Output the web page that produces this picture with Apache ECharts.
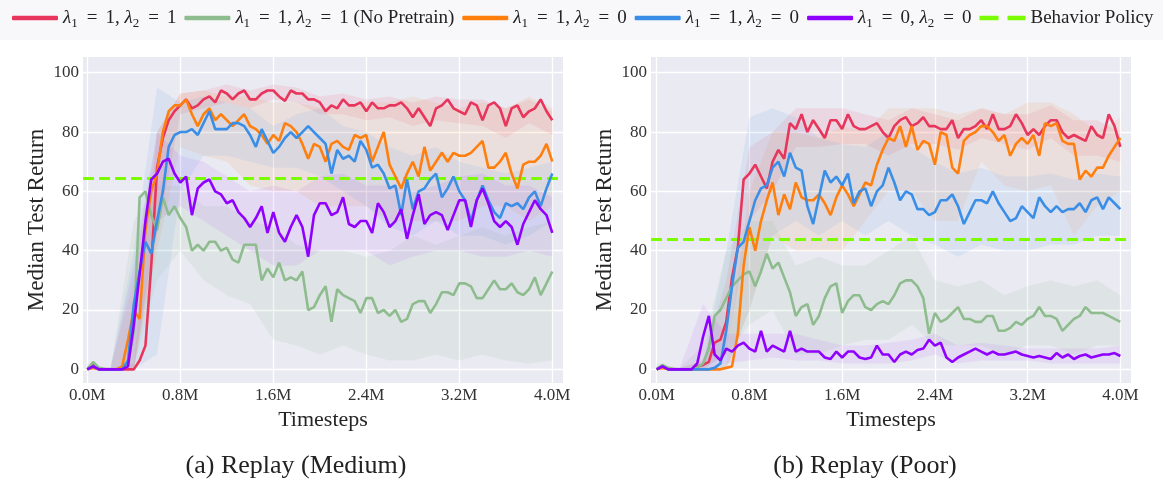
<!DOCTYPE html>
<html><head><meta charset="utf-8">
<script src="https://cdn.jsdelivr.net/npm/echarts@6/dist/echarts.min.js"></script>
<style>html,body{margin:0;padding:0;background:#fff}#c{width:1163px;height:484px}</style>
</head><body><div id="c"></div><script>
// sample timesteps (millions)
const T = [0,0.05,0.1,0.15,0.2,0.25,0.3,0.35,0.4,0.45,
0.5,0.55,0.6,0.65,0.7,0.75,0.8,0.85,0.9,0.95,
1.0,1.05,1.1,1.15,1.2,1.25,1.3,1.35,1.4,1.45,
1.5,1.55,1.6,1.65,1.7,1.75,1.8,1.85,1.9,1.95,
2.0,2.05,2.1,2.15,2.2,2.25,2.3,2.35,2.4,2.45,
2.5,2.55,2.6,2.65,2.7,2.75,2.8,2.85,2.9,2.95,
3.0,3.05,3.1,3.15,3.2,3.25,3.3,3.35,3.4,3.45,
3.5,3.55,3.6,3.65,3.7,3.75,3.8,3.85,3.9,3.95,4.0];
const BT = [0,0.2,0.4,0.6,0.8,1.0,1.2,1.4,1.6,1.8,2.0,2.2,2.4,2.6,2.8,3.0,3.2,3.4,3.6,3.8,4.0];
const xTicks = [0,0.8,1.6,2.4,3.2,4.0];
const yTicks = [0,20,40,60,80,100];

// (a) Replay (Medium)
const medRed = [0,2,0,0,0,0,0,0,0,3, 8,35,68,78,84,87,89,91,88,89, 91,92,90,94,93,91,93,94,91,91, 93,94,94,92,90.5,94,93,93,91,91, 90,87,89,88,91,89,89,90,87,90, 88,88,89,89,90,88,85,88,85,82, 88,89,91,88,87,86,90,89,84,89, 90,88,82,88,89,85,87,88,91,87, 84];
const medGreen = [0,2.5,0.5,0,0,0,0,2,13,58, 60,52,47,58,52,55,51,48,40,42, 40,43,43,40,41,37,36,42,42,42, 30,34,31,36,30,31,30,33,20,21, 25,28,16,27,25,24,23,19,24,24, 19,20,18,20,16,17,22,23,23,19, 22,26,26,25,29,29,28,24,24,27, 30,27,27,29,26,25,27,31,25,29, 33];
const medOrange = [0,0.5,0,0,0,0,1,10,20,17, 47,60,66,80,87,89,89,91,86,82, 86,88,84,86,84,82,84,86,82,81, 79,76,79,77,83,82,80,76,71,76, 75,70,76,77,75,74,79,78,79,70, 75,80,69,65,61,66,70,65,75,67, 70,73,70,73,72,72,73,75,77,68, 68,70,73,66,61,69,70,70,72,76, 70];
const medBlue = [0,1,0,0,0,0,0,3,22,33, 43,39,50,60,75,79,80,80,81,79, 83,87,81,81,81,83,83,82,79,75, 81,77,73,75,78,80,78,80,82,80, 78,76,66,74,71,72,70,77,74,68, 69,66,61,62,52,64,54,60,61,64, 66,58,61,65,60,57,50,57,62,57, 53,51,56,55,56,54,58,60,55,61, 66];
const medPurple = [0,1,0,0,0,0,0,1,15,32, 50,64,66,70,71,66,63,65,52,61, 63,64,60,59,56,57,53,51,48,51, 55,46,53,46,43,48,52,48,38,52, 56,56,52,53,58,49,48,50,50,46, 56,53,48,50,54,44,52,59,49,52, 53,52,47,52,57,57,48,57,61,56, 50,48,50,48,42,49,53,57,54,52, 46];
const medBehavior = 64.3;
// bands (low / high) every 0.2M
const medRedLo = [0,0,0,45,86,88,90,88,91,90,86,86,84,85,82,84,83,82,78,83,79];
const medRedHi = [1,0.5,2,80,93,94,96,94,96,95,92,93,91,92,90,92,91,91,88,91,87];
const medGreenLo = [0,0,0,30,40,30,25,22,10,8,5,8,5,3,3,5,3,5,3,2,3];
const medGreenHi = [2,0.5,50,62,62,55,55,50,48,42,40,40,38,40,45,42,45,48,45,48,50];
const medOrangeLo = [0,0,0,40,75,72,70,62,60,60,55,55,55,50,50,50,50,55,55,50,55];
const medOrangeHi = [1,0.5,30,80,93,94,92,92,90,90,88,88,90,90,92,90,88,90,88,92,88];
const medBlueLo = [0,0,0,5,60,72,72,70,68,68,65,60,55,48,45,50,45,45,42,45,50];
const medBlueHi = [1,0.5,40,95,90,92,90,88,82,86,88,82,80,75,72,75,70,68,66,68,70];
const medPurpleLo = [0,0,0,50,55,50,45,40,35,35,40,40,40,35,38,40,40,38,38,40,38];
const medPurpleHi = [1,0.5,35,80,72,70,65,60,62,60,65,66,62,62,60,62,65,66,62,62,58];

// (b) Replay (Poor)
const poorRed = [0,1,0,0,0,0,0,1,1.5,2.5, 9,10,16,31,41,64,66,69,65,61, 70,74,71,83,81,86,80,84,81,78, 84,84,81,86,82,81,81,82,83,80, 78,82,84,85,82,83,85,82,82,81, 81,84,78,81,81,82,84,81,86,81, 81,82,86,83,79,81,79,82,84,84, 80,78,79,78,77,82,79,78,86,82, 75];
const poorGreen = [0,1.5,0.5,0,0,0,0,0.5,2,7, 18,20,24,28,30,32,33,28,33,39, 34,36,31,26,18,21,22,15,18,24, 28,29,19,23,25,25,21,20,22,23, 22,25,29,30,30,28,24,12,19,16, 17,19,21,17,17,16,16,18,18,13, 13,14,16,15,17,18,21,18,18,17, 13,15,17,18,21,19,19,19,18,17, 16];
const poorOrange = [0,0.5,0,0,0,0,0,0,0,0, 0,0,0.5,1,12,35,48,40,50,57, 63,52,59,54,63,58,57,57,59,56, 52,58,62,59,55,59,63,62,69,74, 78,77,82,75,82,74,77,76,69,80, 79,68,66,77,79,80,82,82,80,77, 79,72,76,78,76,79,72,83,82,83, 77,76,76,64,67,65,68,68,72,75, 78];
const poorBlue = [0,1,0,0,0,0,0,0,0,0, 0.5,2,13,28,41,43,50,57,61,62, 68,70,65,73,68,67,55,49,58,67, 63,65,62,66,56,60,61,55,60,62, 68,63,57,60,59,54,54,52,53,57, 57,59,55,49,53,57,57,56,60,56, 53,50,51,55,53,51,58,55,53,55, 53,54,54,56,53,57,58,54,58,56, 54];
const poorPurple = [0,1,0,0,0,0,0,2,11,18, 5,3,7,6,8,9,7,6,13,6, 8,7,6,13,6,7,6,6,6,4, 3.5,6,4,6,6,4,3.5,4,8,5, 5,2.5,5,6,5,6.5,7,10,8,9, 4,2.5,4,5,6,7,6,5,6,5, 5,5.5,6,5,4.5,4,4.5,4,3.5,5.5, 4,5,3.5,4.5,5,4,4.5,5,5,5.5, 4.5];
const poorBehavior = 44;
const poorRedLo = [0,0,0,5,50,60,75,75,76,76,72,76,76,74,78,76,74,78,72,72,70];
const poorRedHi = [1,0.5,3,30,75,80,88,88,88,86,84,88,86,84,88,86,86,89,84,84,80];
const poorGreenLo = [0,0,0,5,15,20,5,5,8,10,10,15,8,8,8,5,8,8,5,8,8];
const poorGreenHi = [2,0.5,8,40,50,50,35,38,35,35,40,45,30,28,30,25,28,30,28,30,25];
const poorOrangeLo = [0,0,0,0,20,45,40,40,40,50,60,60,50,50,70,62,60,62,45,55,60];
const poorOrangeHi = [0.5,0.5,0.5,2,60,80,80,78,82,80,88,88,88,86,88,86,90,90,86,80,85];
const poorBlueLo = [0,0,0,0,20,45,50,45,50,45,50,45,42,38,42,40,40,42,42,45,45];
const poorBlueHi = [1,0.5,2,40,85,88,85,78,76,75,80,75,70,66,68,65,65,66,64,66,65];
const poorPurpleLo = [0,0,0,2,3,4,3,3,2,2,2,3,5,2,3,3,3,2,2,2,2];
const poorPurpleHi = [1,0.5,22,12,12,12,12,10,8,8,9,10,12,8,9,8,7,7,7,7,8];

const C = {red:'#e8355b', green:'#8fbc8f', orange:'#ff7f0e', blue:'#3a8ee6', purple:'#8f00ff', beh:'#7cfc00'};
const LEG = {
  a: '{i|λ}{s|1}{e|=}{n|1, }{i|λ}{s|2}{e|=}{n|1}',
  b: '{i|λ}{s|1}{e|=}{n|1, }{i|λ}{s|2}{e|=}{n|1 (No Pretrain)}',
  c: '{i|λ}{s|1}{e|=}{n|1, }{i|λ}{s|2}{e|=}{n|0}',
  d: '{i|λ}{s|1}{e|=}{n|1, }{i|λ}{s|2}{e|=}{n|0}',
  e: '{i|λ}{s|1}{e|=}{n|0, }{i|λ}{s|2}{e|=}{n|0}',
  f: '{n|Behavior Policy}'
};
const FONT = 'Liberation Serif';

function pairs(v){ return T.map((t,i)=>[t, v[i]]); }
function line(name, color, vals, idx, z){
  return {type:'line', name, xAxisIndex:idx, yAxisIndex:idx, data:pairs(vals), showSymbol:false,
    symbol:'none', lineStyle:{color, width:2.6}, itemStyle:{color}, z:z, silent:true};
}
function band(lo, hi, color, idx, op){
  return {type:'custom', xAxisIndex:idx, yAxisIndex:idx, silent:true, z:1, data:[[0,0]],
    encode:{x:0,y:1},
    renderItem(params, api){
      const pts=[];
      for(let i=0;i<BT.length;i++) pts.push(api.coord([BT[i], hi[i]]));
      for(let i=BT.length-1;i>=0;i--) pts.push(api.coord([BT[i], lo[i]]));
      return {type:'polygon', shape:{points:pts}, style:{fill:color, opacity:op}};
    }};
}
function beh(val, idx){
  return {type:'line', name:'f', xAxisIndex:idx, yAxisIndex:idx, data:[], z:10, itemStyle:{color:C.beh},
    lineStyle:{color:C.beh, width:3, type:[11,5]},
    markLine:{silent:true, symbol:'none', label:{show:false}, animation:false,
      lineStyle:{color:C.beh, width:3, type:[11,5]}, data:[{yAxis:val}]}};
}
function xAxis(idx, min){
  return {type:'value', gridIndex:idx, min:min, max:4.092,
    name:'Timesteps', nameLocation:'middle', nameGap:24,
    nameTextStyle:{fontFamily:FONT, fontSize:22, color:'#262626'},
    axisLine:{show:false}, axisTick:{show:false, customValues:xTicks},
    axisLabel:{customValues:xTicks, formatter:v=>v.toFixed(1)+'M', fontFamily:FONT, fontSize:17, color:'#333', margin:4},
    splitLine:{show:true, lineStyle:{color:'#ffffff', width:1.3}}};
}
function yAxis(idx){
  return {type:'value', gridIndex:idx, min:-4.6, max:105.3,
    name:'Median Test Return', nameLocation:'middle', nameGap:35, nameRotate:90,
    nameTextStyle:{fontFamily:FONT, fontSize:23, color:'#262626'},
    axisLine:{show:false}, axisTick:{show:false, customValues:yTicks},
    axisLabel:{customValues:yTicks, fontFamily:FONT, fontSize:17, color:'#333', margin:4},
    splitLine:{show:true, lineStyle:{color:'#ffffff', width:1.3}}};
}

const series = [];
[[medRedLo,medRedHi,C.red,0.1],[medGreenLo,medGreenHi,C.green,0.12],[medOrangeLo,medOrangeHi,C.orange,0.09],[medBlueLo,medBlueHi,C.blue,0.09],[medPurpleLo,medPurpleHi,C.purple,0.07]]
  .forEach(b=>series.push(band(b[0],b[1],b[2],0,b[3])));
[[poorRedLo,poorRedHi,C.red,0.1],[poorGreenLo,poorGreenHi,C.green,0.12],[poorOrangeLo,poorOrangeHi,C.orange,0.09],[poorBlueLo,poorBlueHi,C.blue,0.09],[poorPurpleLo,poorPurpleHi,C.purple,0.07]]
  .forEach(b=>series.push(band(b[0],b[1],b[2],1,b[3])));
series.push(line('a',C.red,medRed,0,5), line('b',C.green,medGreen,0,5), line('c',C.orange,medOrange,0,5),
  line('d',C.blue,medBlue,0,5), line('e',C.purple,medPurple,0,5), beh(medBehavior,0));
series.push(line('a',C.red,poorRed,1,5), line('b',C.green,poorGreen,1,5), line('c',C.orange,poorOrange,1,5),
  line('d',C.blue,poorBlue,1,5), line('e',C.purple,poorPurple,1,5), beh(poorBehavior,1));

const rich = {
  i:{fontFamily:FONT, fontStyle:'italic', fontSize:19, color:'#222'},
  s:{fontFamily:FONT, fontSize:13, color:'#222', padding:[11,1,0,0]},
  e:{fontFamily:FONT, fontSize:19, color:'#222', padding:[0,8,0,8]},
  n:{fontFamily:FONT, fontSize:19, color:'#222'}
};

const chart = echarts.init(document.getElementById('c'), null, {renderer:'canvas'});
chart.setOption({
  animation:false,
  backgroundColor:'#ffffff',
  graphic:[
    {type:'rect', x:0, y:0, shape:{width:1163, height:40}, style:{fill:'#f8f8fa'}, z:-10},
    {type:'text', x:296, y:466, style:{text:'(a) Replay (Medium)', font:'26px "Liberation Serif"', fill:'#222', textAlign:'center', textVerticalAlign:'middle'}},
    {type:'text', x:865, y:466, style:{text:'(b) Replay (Poor)', font:'26px "Liberation Serif"', fill:'#222', textAlign:'center', textVerticalAlign:'middle'}}
  ],
  legend:{
    left:12, top:5, padding:0, itemWidth:46, itemHeight:4.5, itemGap:8,
    data:[
      {name:'a', icon:'roundRect'},{name:'b', icon:'roundRect'},{name:'c', icon:'roundRect'},
      {name:'d', icon:'roundRect'},{name:'e', icon:'roundRect'},
      {name:'f', icon:'path://M0,0H17V4H0Z M25,0H41V4H25Z', itemStyle:{color:C.beh}}
    ],
    formatter:n=>LEG[n],
    textStyle:{rich, fontFamily:FONT, fontSize:19, lineHeight:26}
  },
  grid:[
    {left:83, top:57, width:480, height:326, backgroundColor:'#eaeaf2', show:true, borderWidth:0},
    {left:651, top:57, width:480, height:326, backgroundColor:'#eaeaf2', show:true, borderWidth:0}
  ],
  xAxis:[xAxis(0,-0.037), xAxis(1,-0.049)],
  yAxis:[yAxis(0), yAxis(1)],
  series
});
</script></body></html>
